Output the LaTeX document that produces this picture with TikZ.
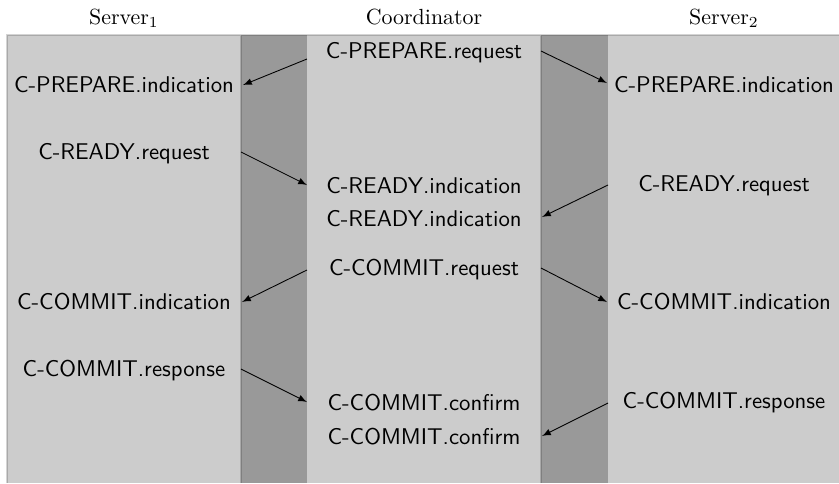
\documentclass[tikz,border=0pt]{standalone}
\begin{document}
\begin{tikzpicture}[x=0.4566pt,y=-0.4566pt,
  rim/.style={draw=black, draw opacity=0.17, line width=0.9pt},
  hdr/.style={inner sep=0pt, text height=6.8pt, text depth=0pt},
  lbl/.style={font=\fontsize{10.4}{12}\sffamily, inner sep=0pt, text height=7.2pt, text depth=0pt},
  msg/.style={-latex, line width=0.4pt}]
\definecolor{lanegray}{HTML}{CCCCCC}
\definecolor{gapgray}{HTML}{999999}
\useasboundingbox (0,0) rectangle (839,483);

% lanes and gaps
\fill[lanegray] (7,35) rectangle (839,483);
\fill[gapgray] (241,35) rectangle (307,483);
\fill[gapgray] (541,35) rectangle (608,483);
% shaded top and left rims
\draw[rim] (7,483) -- (7,35) -- (839,35);
\draw[rim] (241,483) -- (241,36);
\draw[rim] (541,483) -- (541,36);

% column headers
\node[hdr] (h1) at (124,17) {Server$_1$};
\node[hdr] (h0) at (424,17) {Coordinator};
\node[hdr] (h2) at (724,17) {Server$_2$};

% coordinator column
\node[lbl] (prq) at (424,51)  {C-PREPARE.request};
\node[lbl] (ri1) at (424,186) {C-READY.indication};
\node[lbl] (ri2) at (424,219) {C-READY.indication};
\node[lbl] (crq) at (424,268) {C-COMMIT.request};
\node[lbl] (cc1) at (424,403) {C-COMMIT.confirm};
\node[lbl] (cc2) at (424,437) {C-COMMIT.confirm};

% server 1 column
\node[lbl] (pi1) at (124,85)  {C-PREPARE.indication};
\node[lbl] (rr1) at (124,152) {C-READY.request};
\node[lbl] (ci1) at (124,302) {C-COMMIT.indication};
\node[lbl] (cr1) at (124,369) {C-COMMIT.response};

% server 2 column
\node[lbl] (pi2) at (724,85)  {C-PREPARE.indication};
\node[lbl] (rr2) at (724,184) {C-READY.request};
\node[lbl] (ci2) at (724,302) {C-COMMIT.indication};
\node[lbl] (cr2) at (724,401) {C-COMMIT.response};

% message end points on the lane borders
\coordinate (p1s) at (307,59);  \coordinate (p1e) at (243,85);
\coordinate (p2s) at (541,51);  \coordinate (p2e) at (607,83);
\coordinate (r1s) at (241,152); \coordinate (r1e) at (307,185);
\coordinate (r2s) at (608,185); \coordinate (r2e) at (542,217);
\coordinate (c1s) at (307,270); \coordinate (c1e) at (242,302);
\coordinate (c2s) at (541,268); \coordinate (c2e) at (607,302);
\coordinate (k1s) at (241,369); \coordinate (k1e) at (307,402);
\coordinate (k2s) at (608,403); \coordinate (k2e) at (542,436);

% messages
\draw[msg] (p1s) -- (p1e);
\draw[msg] (p2s) -- (p2e);
\draw[msg] (r1s) -- (r1e);
\draw[msg] (r2s) -- (r2e);
\draw[msg] (c1s) -- (c1e);
\draw[msg] (c2s) -- (c2e);
\draw[msg] (k1s) -- (k1e);
\draw[msg] (k2s) -- (k2e);
\end{tikzpicture}
\end{document}
